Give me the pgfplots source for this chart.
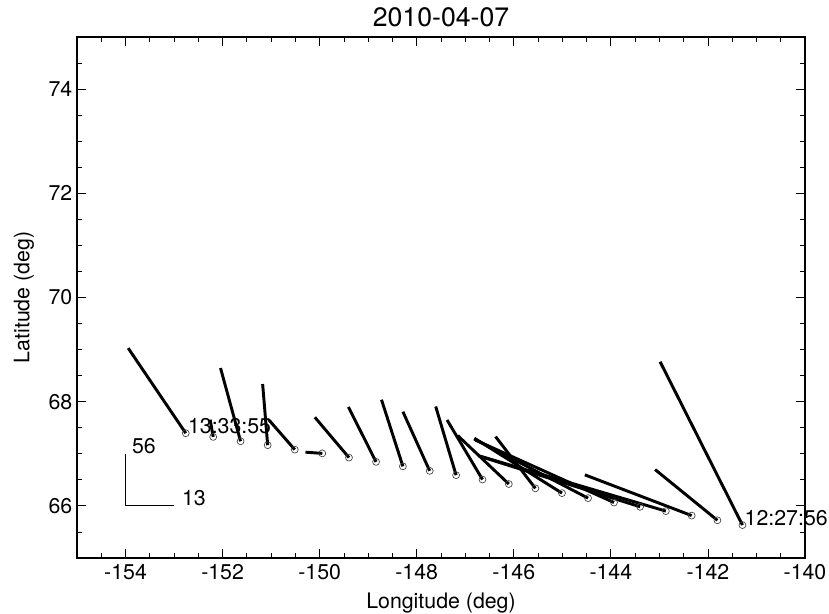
\documentclass[border=0pt]{standalone}
\usepackage{fontspec}
\setmainfont{TeX Gyre Heros}
\usepackage{pgfplots}
\pgfplotsset{compat=1.18}
\usepackage{pgfplotstable}

\pgfplotstableread{
x y ex ey
-152.759 67.395 -153.946 69.029
-152.194 67.324 -152.256 67.655
-151.630 67.241 -152.043 68.646
-151.071 67.165 -151.175 68.339
-150.513 67.080 -151.051 67.655
-149.946 67.008 -150.292 67.031
-149.396 66.927 -150.099 67.701
-148.838 66.845 -149.408 67.898
-148.285 66.759 -148.726 68.038
-147.733 66.672 -148.285 67.808
-147.189 66.590 -147.609 67.908
-146.645 66.506 -147.375 67.649
-146.103 66.420 -147.154 67.349
-145.555 66.337 -146.376 67.330
-145.007 66.245 -146.811 67.299
-144.470 66.149 -146.817 67.285
-143.936 66.065 -146.796 67.266
-143.398 65.983 -146.693 66.950
-142.867 65.900 -146.714 66.960
-142.335 65.814 -144.536 66.596
-141.805 65.724 -143.088 66.697
-141.289 65.632 -142.985 68.766
}\vecdata

\begin{document}
\begin{tikzpicture}
\begin{axis}[name=ax, scale only axis, width=546pt, height=390.75pt,
  xmin=-155, xmax=-140, ymin=65, ymax=75,
  xtick={-154,-152,...,-140},
  xticklabels={-154,-152,-150,-148,-146,-144,-142,-140},
  ytick={66,68,70,72,74}, yticklabels={66,68,70,72,74},
  minor xtick={-155,-154.5,...,-140}, minor ytick={65,65.5,...,75},
  major tick length=6.75pt, minor tick length=3.4pt,
  tick style={black, line width=0.6pt},
  axis line style={black, line width=0.8pt},
  ticklabel style={font=\fontsize{16}{19}\selectfont},
  xticklabel style={yshift=-1pt},
  title={2010-04-07}, title style={font=\fontsize{20}{24}\selectfont, yshift=-2pt},
  xlabel={Longitude (deg)}, ylabel={Latitude (deg)},
  label style={font=\fontsize{16}{19}\selectfont},
  xlabel style={yshift=-3pt},
  ylabel style={yshift=4pt},
  clip=false,
]
\addplot[black, line width=2.2pt,
  quiver={u=\thisrow{ex}-\thisrow{x}, v=\thisrow{ey}-\thisrow{y}}]
  table[x=x, y=y] {\vecdata};
\addplot[only marks, mark=o, mark size=2.6pt, mark options={line width=0.5pt, black!75}]
  table[x=x, y=y] {\vecdata};
\addplot[black, line width=0.75pt] coordinates {(-154,67) (-154,66) (-153,66)};
\node[anchor=base west, inner sep=0, xshift=1.5pt, font=\fontsize{16}{19}\selectfont] at (axis cs:-152.759,67.395) {13:33:55};
\node[anchor=base west, inner sep=0, xshift=1.5pt, font=\fontsize{16}{19}\selectfont] at (axis cs:-141.289,65.632) {12:27:56};
\node[anchor=base west, inner sep=0, xshift=4.7pt, font=\fontsize{16}{19}\selectfont] at (axis cs:-154,67) {56};
\node[anchor=base west, inner sep=0, xshift=5.8pt, font=\fontsize{16}{19}\selectfont] at (axis cs:-153,66) {13};
\end{axis}
\pgfresetboundingbox
\path ([shift={(-57.75pt,-42pt)}]ax.south west) rectangle ([shift={(18pt,27.75pt)}]ax.north east);
\end{tikzpicture}
\end{document}
